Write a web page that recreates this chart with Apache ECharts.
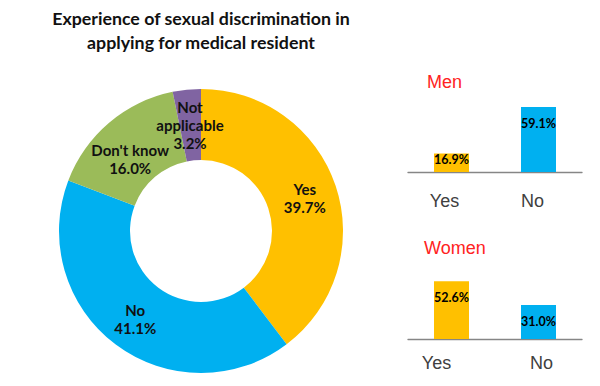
<!DOCTYPE html>
<html>
<head>
<meta charset="utf-8">
<script src="https://cdn.jsdelivr.net/npm/echarts@6/dist/echarts.min.js"></script>
<style>html,body{margin:0;padding:0;background:#fff}#c{width:600px;height:386px}</style>
</head>
<body>
<div id="c"></div>
<script>
const chartTitle = ['Experience of sexual discrimination in', 'applying for medical resident'];
const pieNames = ['Yes', 'No', "Don't know", 'Not applicable'];
const pieValues = [39.7, 41.1, 16.0, 3.2];
const barCategories = ['Yes', 'No'];
const menValues = [16.9, 59.1];
const womenValues = [52.6, 31.0];
const groupTitles = ['Men', 'Women'];

const colorMap = { 'Yes': '#FFC000', 'No': '#00B0F0', "Don't know": '#9BBB59', 'Not applicable': '#8064A2' };

const chart = echarts.init(document.getElementById('c'), null, { renderer: 'svg' });

function barSeries(values, gi) {
  return {
    type: 'bar',
    xAxisIndex: gi, yAxisIndex: gi,
    barWidth: 35,
    data: values.map((v, i) => {
      const item = { value: v, itemStyle: { color: colorMap[barCategories[i]] } };
      if (v < 25) item.label = { position: 'insideTop', distance: 0 };
      return item;
    }),
    label: {
      show: true, position: 'insideTop', distance: 10,
      fontFamily: 'Lato', fontWeight: 'bold', fontSize: 12.5, color: '#000',
      formatter: p => p.value.toFixed(1) + '%'
    }
  };
}

function catAxis(gi, margin, shifts) {
  return {
    type: 'category', gridIndex: gi, data: barCategories,
    axisLine: { lineStyle: { color: '#868686', width: 1.3 } },
    axisTick: { show: false },
    axisLabel: {
      margin: margin,
      formatter: (v, i) => '{s' + i + '|' + v + '}',
      rich: {
        s0: { fontFamily: 'Liberation Sans', fontSize: 18, color: '#404040', padding: shifts[0] },
        s1: { fontFamily: 'Liberation Sans', fontSize: 18, color: '#404040', padding: shifts[1] }
      }
    }
  };
}

const option = {
  animation: false,
  title: [
    {
      text: chartTitle.join('\n'), left: 201, top: 6, textAlign: 'center', padding: 0,
      textStyle: { fontFamily: 'Lato', fontWeight: 'bold', fontSize: 17.8, lineHeight: 24, color: '#111' }
    },
    {
      text: groupTitles[0], left: 427, top: 73, padding: 0,
      textStyle: { fontFamily: 'Liberation Sans', fontWeight: 'normal', fontSize: 18, color: '#F22' }
    },
    {
      text: groupTitles[1], left: 424, top: 239, padding: 0,
      textStyle: { fontFamily: 'Liberation Sans', fontWeight: 'normal', fontSize: 18, color: '#F22' }
    }
  ],
  grid: [
    { left: 408, width: 174, top: 106, height: 66 },
    { left: 408, width: 174, top: 273, height: 66 }
  ],
  xAxis: [
    catAxis(0, 20, [[0, 14, 0, 0], [0, 12, 0, 0]]),
    catAxis(1, 15, [[0, 30, 0, 0], [0, 0, 0, 6]])
  ],
  yAxis: [
    { type: 'value', gridIndex: 0, min: 0, max: 60, show: false },
    { type: 'value', gridIndex: 1, min: 0, max: 60, show: false }
  ],
  series: [
    {
      type: 'pie',
      center: [201, 231],
      radius: [71, 142],
      startAngle: 90,
      clockwise: true,
      avoidLabelOverlap: false,
      emphasis: { disabled: true },
      itemStyle: { borderWidth: 0 },
      labelLayout: { hideOverlap: false },
      label: {
        show: true, position: 'inside',
        fontFamily: 'Lato', fontWeight: 'bold', fontSize: 15, lineHeight: 18, color: '#111',
        formatter: p => (p.name === 'Not applicable' ? 'Not\napplicable' : p.name) + '\n' + p.value.toFixed(1) + '%'
      },
      labelLine: { show: false },
      data: pieNames.map((n, i) => {
        const item = { name: n, value: pieValues[i], itemStyle: { color: colorMap[n] } };
        if (n === "Don't know") item.label = { offset: [0, 11] };
        if (n === 'Not applicable') item.label = { offset: [0, 3] };
        if (n === 'Yes') item.label = { offset: [0, 2] };
        return item;
      })
    },
    barSeries(menValues, 0),
    barSeries(womenValues, 1)
  ]
};
chart.setOption(option);
</script>
</body>
</html>
